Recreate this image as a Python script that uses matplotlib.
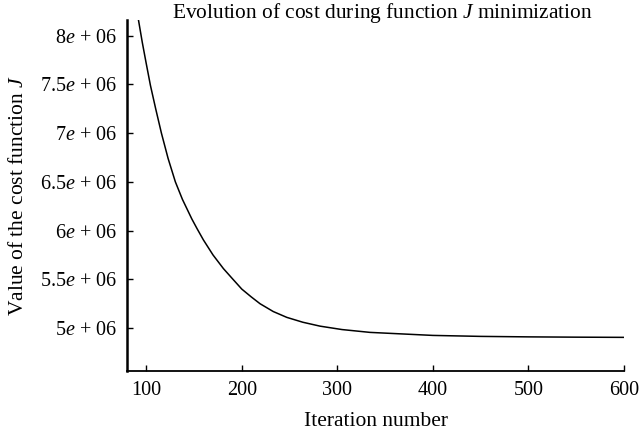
import numpy as np
import matplotlib
matplotlib.use("Agg")
import matplotlib.pyplot as plt
from matplotlib.ticker import FuncFormatter

# values
iterations = [92, 96, 100, 104.5, 110, 116, 123, 130.6, 138, 147.8, 153.3,
              159.9, 170, 180.9, 190, 200.1, 210, 219.2, 233, 247.2, 264,
              282, 305, 334.3, 400, 450, 500, 550, 600]
cost = [8.16e6, 7.93e6, 7.72e6, 7.49e6, 7.25e6, 7.0e6, 6.74e6, 6.5e6, 6.32e6,
        6.12e6, 6.02e6, 5.905e6, 5.75e6, 5.61e6, 5.51e6, 5.40e6, 5.32e6,
        5.25e6, 5.17e6, 5.11e6, 5.06e6, 5.02e6, 4.985e6, 4.956e6, 4.925e6,
        4.915e6, 4.91e6, 4.907e6, 4.905e6]
xticks = [100, 200, 300, 400, 500, 600]
yticks = [5e6, 5.5e6, 6e6, 6.5e6, 7e6, 7.5e6, 8e6]

plt.rcParams['font.family'] = 'Liberation Serif'
plt.rcParams['mathtext.fontset'] = 'custom'
plt.rcParams['mathtext.rm'] = 'Liberation Serif'
plt.rcParams['mathtext.it'] = 'Liberation Serif:italic'
plt.rcParams['font.size'] = 14.5

fig = plt.figure(figsize=(6.41, 4.38), dpi=100)
ax = fig.add_axes([127 / 641, 67 / 438, 497 / 641, 351 / 438])

ax.plot(iterations, cost, color='k', lw=1.1)

ax.set_xlim(80, 600)
ax.set_ylim(4.56e6, 8.16e6)
ax.set_xticks(xticks)
ax.set_yticks(yticks)


def sci(v, pos):
    m = v / 1e6
    s = ('%g' % m)
    return r'%s$e$ + 06' % s


ax.yaxis.set_major_formatter(FuncFormatter(sci))
ax.tick_params(direction='in', length=4, width=1)
ax.tick_params(axis='y', pad=7)
ax.tick_params(axis='x', pad=7)
ax.spines['top'].set_visible(False)
ax.spines['right'].set_visible(False)
ax.spines['left'].set_linewidth(1.8)
ax.spines['bottom'].set_linewidth(1.3)

# title placed by hand, it sits a bit into the axes
fig.text(382 / 641, 1 - 18 / 438,
         r'Evolution of cost during function $J$ minimization',
         fontsize=15.4, ha='center', va='baseline')
ax.set_xlabel('Iteration number', fontsize=15.5, labelpad=9)
ax.set_ylabel(r'Value of the cost function $J$', fontsize=15.5, labelpad=9)

fig.savefig('out.png', dpi=100)
